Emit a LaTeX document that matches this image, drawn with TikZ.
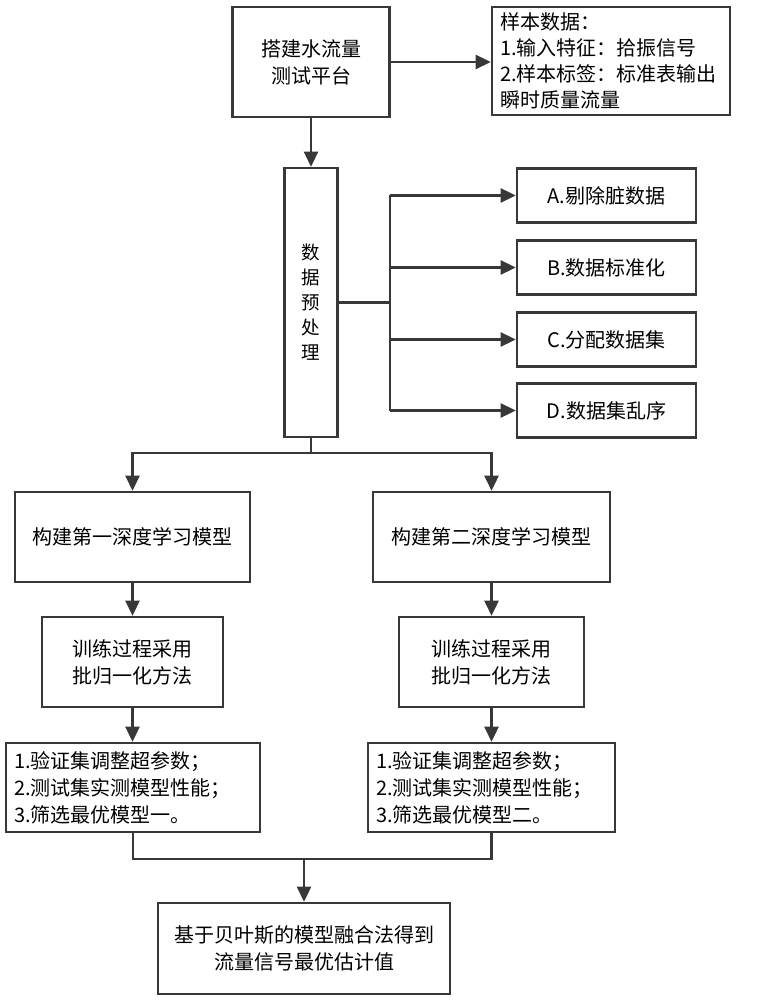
\documentclass[tikz,border=0pt]{standalone}
\usepackage{fontspec}
\setmainfont{Noto Sans CJK SC}
\usetikzlibrary{arrows.meta}
\usetikzlibrary{positioning}
\definecolor{ink}{HTML}{383838}
\newcommand{\trainbn}{训练过程采用\\批归一化方法}
\newcommand{\evalsteps}[1]{1.验证集调整超参数；\\2.测试集实测模型性能；\\3.筛选最优模型#1。}

\begin{document}
\begin{tikzpicture}[x=1pt, y=-1pt,
                    every node/.style={draw=ink, line width=2.6pt, inner sep=0pt,
                                       align=center, font=\fontsize{20}{27}\selectfont},
                    line/.style={draw=ink, line width=2.6pt},
                    arrow/.style={line, -{Triangle[length=15pt,width=14pt]}},
                    listbox/.style={align=left, inner xsep=8pt, text width=#1}]

    \useasboundingbox (0,0) rectangle (756,1000);

    \node[minimum width=157, minimum height=110] (plat) at (311,62) {搭建水流量\\测试平台};
    \node[listbox=222pt, minimum width=238, minimum height=108,
          font=\fontsize{20}{26}\selectfont] (samp) at (611,61)
        {样本数据：\\1.输入特征：拾振信号\\2.样本标签：标准表输出\\瞬时质量流量};
    \node[minimum width=53, minimum height=269, font=\fontsize{18.5}{25}\selectfont]
        (prep) at (311,302.5) {数\\据\\预\\处\\理};

    \foreach \n/\y/\t in {a/195.5/A.剔除脏数据, b/267.5/B.数据标准化,
                          c/339.5/C.分配数据集, d/410.5/D.数据集乱序}
        \node[minimum width=179, minimum height=54] (\n) at (606.5,\y) {\t};

    \node[minimum width=235, minimum height=90] (model1) at (132.5,537) {构建第一深度学习模型};
    \node[minimum width=237, minimum height=90] (model2) at (491.5,537) {构建第二深度学习模型};
    \node[minimum width=181, minimum height=90] (train1) at (132.5,662) {\trainbn};
    \node[minimum width=185, minimum height=90] (train2) at (491.5,662) {\trainbn};
    \node[listbox=238pt, minimum width=254, minimum height=89] (eval1) at (133,787.5) {\evalsteps{一}};
    \node[listbox=231pt, minimum width=247, minimum height=89] (eval2) at (491.5,787.5) {\evalsteps{二}};
    \node[minimum width=292, minimum height=91] (fuse) at (304,948.5)
        {基于贝叶斯的模型融合法得到\\流量信号最优估计值};

    \coordinate (bus) at (390,302.5);
    \coordinate (split) at (311,453);
    \coordinate (merge) at (304,859);

    \draw[arrow] (plat.east) -- (plat.east -| samp.west);
    \draw[arrow] (plat.south) -- (prep.north);
    \draw[line] (prep.east) -- (bus);
    \draw[line] (bus |- a.west) -- (bus |- d.west);
    \foreach \n in {a,b,c,d}
        \draw[arrow] (bus |- \n.west) -- (\n.west);
    \draw[line] (prep.south) -- (split);
    \draw[arrow] (split) -| (model1.north);
    \draw[arrow] (split) -| (model2.north);
    \draw[arrow] (model1) -- (train1);
    \draw[arrow] (model2) -- (train2);
    \draw[arrow] (train1) -- (train1 |- eval1.north);
    \draw[arrow] (train2) -- (eval2);
    \draw[line] (eval1.south) |- (eval2.south |- merge) -- (eval2.south);
    \draw[arrow] (merge) -- (fuse.north);
\end{tikzpicture}
\end{document}
